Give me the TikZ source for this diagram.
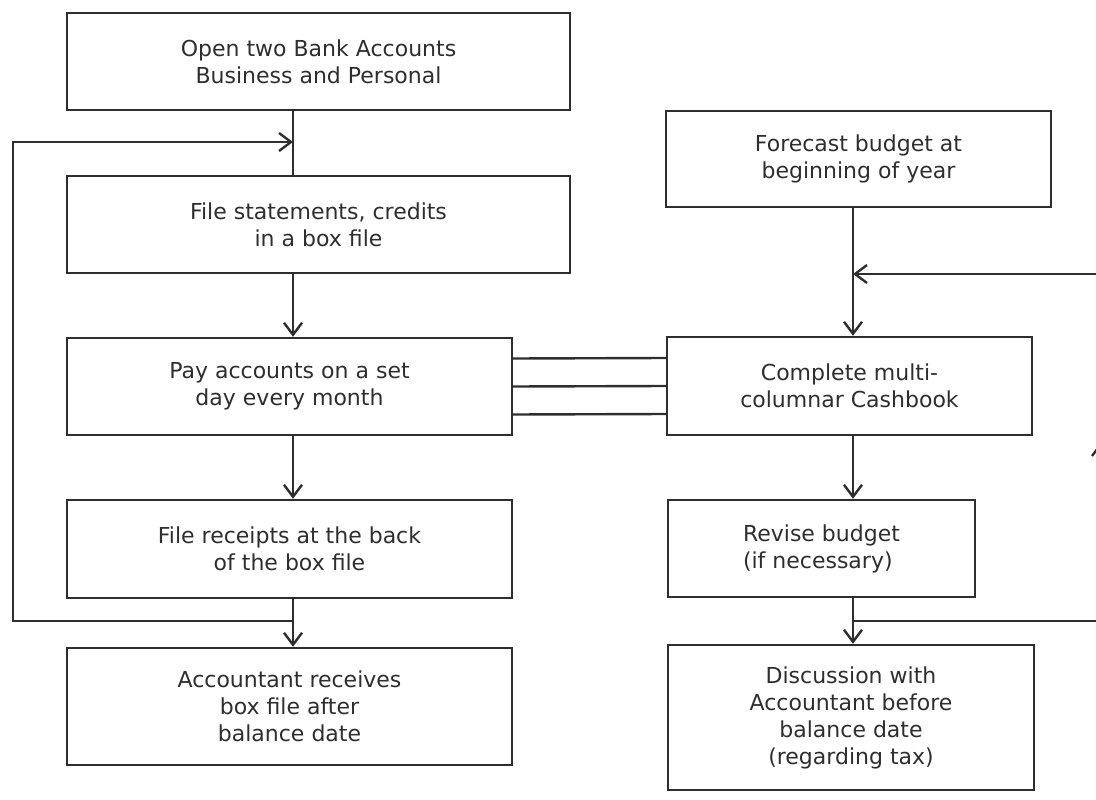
\documentclass[tikz,border=0pt]{standalone}
\usepackage{fontspec}
\setmainfont{DejaVu Sans}
\usetikzlibrary{arrows.meta}
\definecolor{ink}{HTML}{2E2E2E}

\begin{document}
\begin{tikzpicture}[x=1pt,y=-1pt]
\tikzset{box/.style={draw=ink,line width=2.4pt,rectangle,align=center,text=ink,
    font=\fontsize{22pt}{27pt}\selectfont,inner sep=0pt},
  link/.style={draw=ink,line width=2.4pt},
  arr/.style={link,-{Straight Barb[length=12pt,width=18pt]}}}
\useasboundingbox (0,0) rectangle (1096,800);

% left column
\node[box,minimum width=503pt,minimum height=97pt] (open) at (318.5,61.5) {Open two Bank Accounts\\Business and Personal};
\node[box,minimum width=503pt,minimum height=97pt] (files) at (318.5,224.5) {File statements, credits\\in a box file};
\node[box,minimum width=445pt,minimum height=97pt] (pay) at (289.5,386.5) {Pay accounts on a set\\day every month};
\node[box,minimum width=445pt,minimum height=98pt] (rcpt) at (289.5,549) {File receipts at the back\\of the box file};
\node[box,minimum width=445pt,minimum height=117pt] (acct) at (289.5,706.5) {Accountant receives\\box file after\\balance date};

% right column
\node[box,minimum width=385pt,minimum height=96pt] (fcst) at (858.5,159) {Forecast budget at\\beginning of year};
\node[box,minimum width=365pt,minimum height=98pt] (cash) at (849.5,386) {Complete multi-\\columnar Cashbook};
\node[box,minimum width=307pt,minimum height=97pt,align=left] (rev) at (821.5,548.5) {Revise budget\\(if necessary)};
\node[box,minimum width=366pt,minimum height=145pt] (disc) at (851,717.5) {Discussion with\\Accountant before\\balance date\\(regarding tax)};

\coordinate (lx) at (293,0);
\coordinate (rx) at (853,0);
\coordinate (ljoin) at (293,142);
\coordinate (lside) at (13,142);
\coordinate (lbot) at (293,621);
\coordinate (rjoin) at (853,274);
\coordinate (rbot) at (853,621);
\coordinate (rloopA) at (1101,621);
\coordinate (rloopB) at (1101,442);
\coordinate (rloopC) at (1101,274);

% left connectors
\draw[link] (open.south -| lx) -- (files.north -| lx);
\draw[arr] (lbot) -| (lside) -- (ljoin);
\draw[arr] (files.south -| lx) -- (pay.north -| lx);
\draw[arr] (pay.south -| lx) -- (rcpt.north -| lx);
\draw[arr] (rcpt.south -| lx) -- (acct.north -| lx);

% right connectors
\draw[arr] (fcst.south -| rx) -- (cash.north -| rx);
\draw[arr] (cash.south -| rx) -- (rev.north -| rx);
\draw[arr] (rev.south -| rx) -- (disc.north -| rx);
\draw[arr] (rbot) -- (rloopA) -- (rloopB);
\draw[arr] (rloopB) -- (rloopC) -- (rjoin);

% links between the two columns
\foreach \dy in {-28,0,28}
  \draw[link] ([yshift=\dy pt]pay.east) -- ([yshift=\dy pt]cash.west);
\end{tikzpicture}
\end{document}
